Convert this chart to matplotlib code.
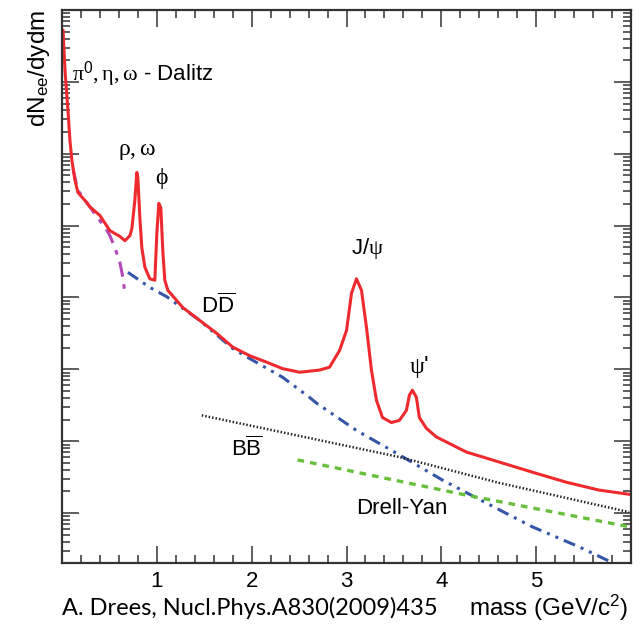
import numpy as np
import matplotlib
matplotlib.use("Agg")
import matplotlib.pyplot as plt
from matplotlib.ticker import LogLocator, MultipleLocator, NullFormatter

plt.rcParams['font.family'] = 'Liberation Sans'
plt.rcParams['mathtext.fontset'] = 'custom'
plt.rcParams['mathtext.rm'] = 'Liberation Serif'
plt.rcParams['mathtext.it'] = 'Liberation Serif'

# ---- data (y given as log10 of dN/dydm, arbitrary units) ----
total_m = [0.011, 0.032, 0.063, 0.084, 0.105, 0.137, 0.168, 0.242, 0.295, 0.40, 0.505, 0.61,
           0.663, 0.716, 0.737, 0.768, 0.789, 0.80, 0.821, 0.842, 0.874, 0.926, 0.979, 1.0,
           1.021, 1.042, 1.063, 1.084, 1.116, 1.274, 1.453, 1.632, 1.80, 1.979, 2.158, 2.326,
           2.505, 2.716, 2.821, 2.926, 3.0, 3.053, 3.105, 3.158, 3.211, 3.263, 3.316, 3.379,
           3.474, 3.558, 3.632, 3.663, 3.695, 3.737, 3.768, 3.842, 3.947, 4.263, 4.611, 4.958,
           5.316, 5.663, 5.99]
total_log = [6.72, 6.15, 5.60, 5.18, 4.90, 4.63, 4.46, 4.35, 4.26, 4.14, 3.93, 3.85,
             3.79, 3.86, 3.96, 4.35, 4.74, 4.67, 4.11, 3.69, 3.42, 3.26, 3.24, 3.89,
             4.31, 4.25, 3.65, 3.24, 3.10, 2.86, 2.68, 2.50, 2.31, 2.19, 2.10, 2.01,
             1.96, 1.99, 2.03, 2.26, 2.54, 3.06, 3.26, 3.10, 2.58, 1.99, 1.57, 1.33,
             1.26, 1.29, 1.43, 1.64, 1.71, 1.61, 1.33, 1.18, 1.06, 0.85, 0.71, 0.57,
             0.43, 0.32, 0.26]

dalitz_m = [0.116, 0.168, 0.295, 0.368, 0.453, 0.505, 0.558, 0.61, 0.642, 0.663]
dalitz_log = [4.79, 4.49, 4.26, 4.12, 3.98, 3.86, 3.69, 3.49, 3.28, 3.06]

dd_m = [0.695, 0.926, 1.105, 1.453, 1.80, 1.979, 2.326, 2.61, 2.684, 3.105, 3.558, 4.011,
        4.474, 4.958, 5.453, 5.789]
dd_log = [3.35, 3.14, 3.01, 2.68, 2.29, 2.15, 1.89, 1.61, 1.53, 1.15, 0.81, 0.46,
          0.14, -0.19, -0.47, -0.68]

bb_m = [1.474, 3.558, 4.611, 5.979]
bb_log = [1.36, 0.78, 0.42, 0.014]

dy_m = [2.484, 4.263, 5.979]
dy_log = [0.74, 0.25, -0.19]

xticks = [1, 2, 3, 4, 5]

fig = plt.figure(figsize=(6.42, 6.24), dpi=100)
ax = fig.add_axes([62/642, 1-563/624, 569/642, 553/624])

ax.plot(dalitz_m, 10**np.array(dalitz_log), color='#b548b8', lw=2.2,
        dashes=(5, 2.5, 1.5, 2.5))
ax.plot(dd_m, 10**np.array(dd_log), color='#3556a8', lw=2.2,
        dashes=(4, 2, 1, 2, 1, 2))
ax.plot(bb_m, 10**np.array(bb_log), color='#222222', lw=1.8, dashes=(0.6, 0.8))
ax.plot(dy_m, 10**np.array(dy_log), color='#66c03c', lw=2.4, dashes=(2, 1.8))
ax.plot(total_m, 10**np.array(total_log), color='#ee2a2e', lw=2.2,
        solid_joinstyle='round', solid_capstyle='round')

ax.set_yscale('log')
ax.set_xlim(0, 6)
ax.set_ylim(10**(-50/72), 1e7)

ax.xaxis.set_major_locator(MultipleLocator(1))
ax.xaxis.set_minor_locator(MultipleLocator(0.2))
ax.set_xticks(xticks)
ax.set_xticklabels([str(t) for t in xticks])
ax.yaxis.set_major_locator(LogLocator(base=10, numticks=20))
ax.yaxis.set_minor_locator(LogLocator(base=10, subs=np.arange(2, 10), numticks=20))
ax.yaxis.set_major_formatter(NullFormatter())
ax.yaxis.set_minor_formatter(NullFormatter())

ax.tick_params(which='both', direction='in', top=True, right=True, width=1.1, color='#333333')
ax.tick_params(which='major', length=12, labelsize=16, pad=6)
ax.tick_params(which='minor', length=6)
for s in ax.spines.values():
    s.set_linewidth(1.6)
    s.set_color('#333333')

fs = 16
ax.text(0.105, 10**6.10, r"$\mathrm{\pi}^{\mathregular{0}}\mathrm{,\eta,\omega}$ - Dalitz",
        fontsize=fs, ha='left', va='center')
ax.text(0.789, 10**5.04, r"$\mathrm{\rho,\omega}$", fontsize=17, ha='center', va='center')
ax.text(1.053, 10**4.65, r"$\mathrm{\phi}$", fontsize=17, ha='center', va='center')
ax.text(3.221, 10**3.68, r"J/$\mathrm{\psi}$", fontsize=fs, ha='center', va='center')
ax.text(1.642, 10**2.89, r"D$\overline{\mathregular{D}}$", fontsize=fs, ha='center', va='center')
ax.text(3.768, 10**2.03, r"$\mathrm{\psi}$'", fontsize=17, ha='center', va='center')
ax.text(1.947, 10**0.90, r"B$\overline{\mathregular{B}}$", fontsize=fs, ha='center', va='center')
ax.text(3.579, 10**0.06, "Drell-Yan", fontsize=fs, ha='center', va='center')

fig.text(26/642, 1-10/624, r"dN$\mathregular{_{ee}}$/dydm", rotation=90, fontsize=17.5,
         ha='left', va='top')
fig.text(628/642, 1-608/624, r"mass (GeV/c$\mathregular{^2}$)", fontsize=17.5,
         ha='right', va='center')
fig.text(62/642, 1-608/624, "A. Drees, Nucl.Phys.A830(2009)435", fontsize=17,
         family='Lato', ha='left', va='center')

fig.savefig("out.png", dpi=100)
